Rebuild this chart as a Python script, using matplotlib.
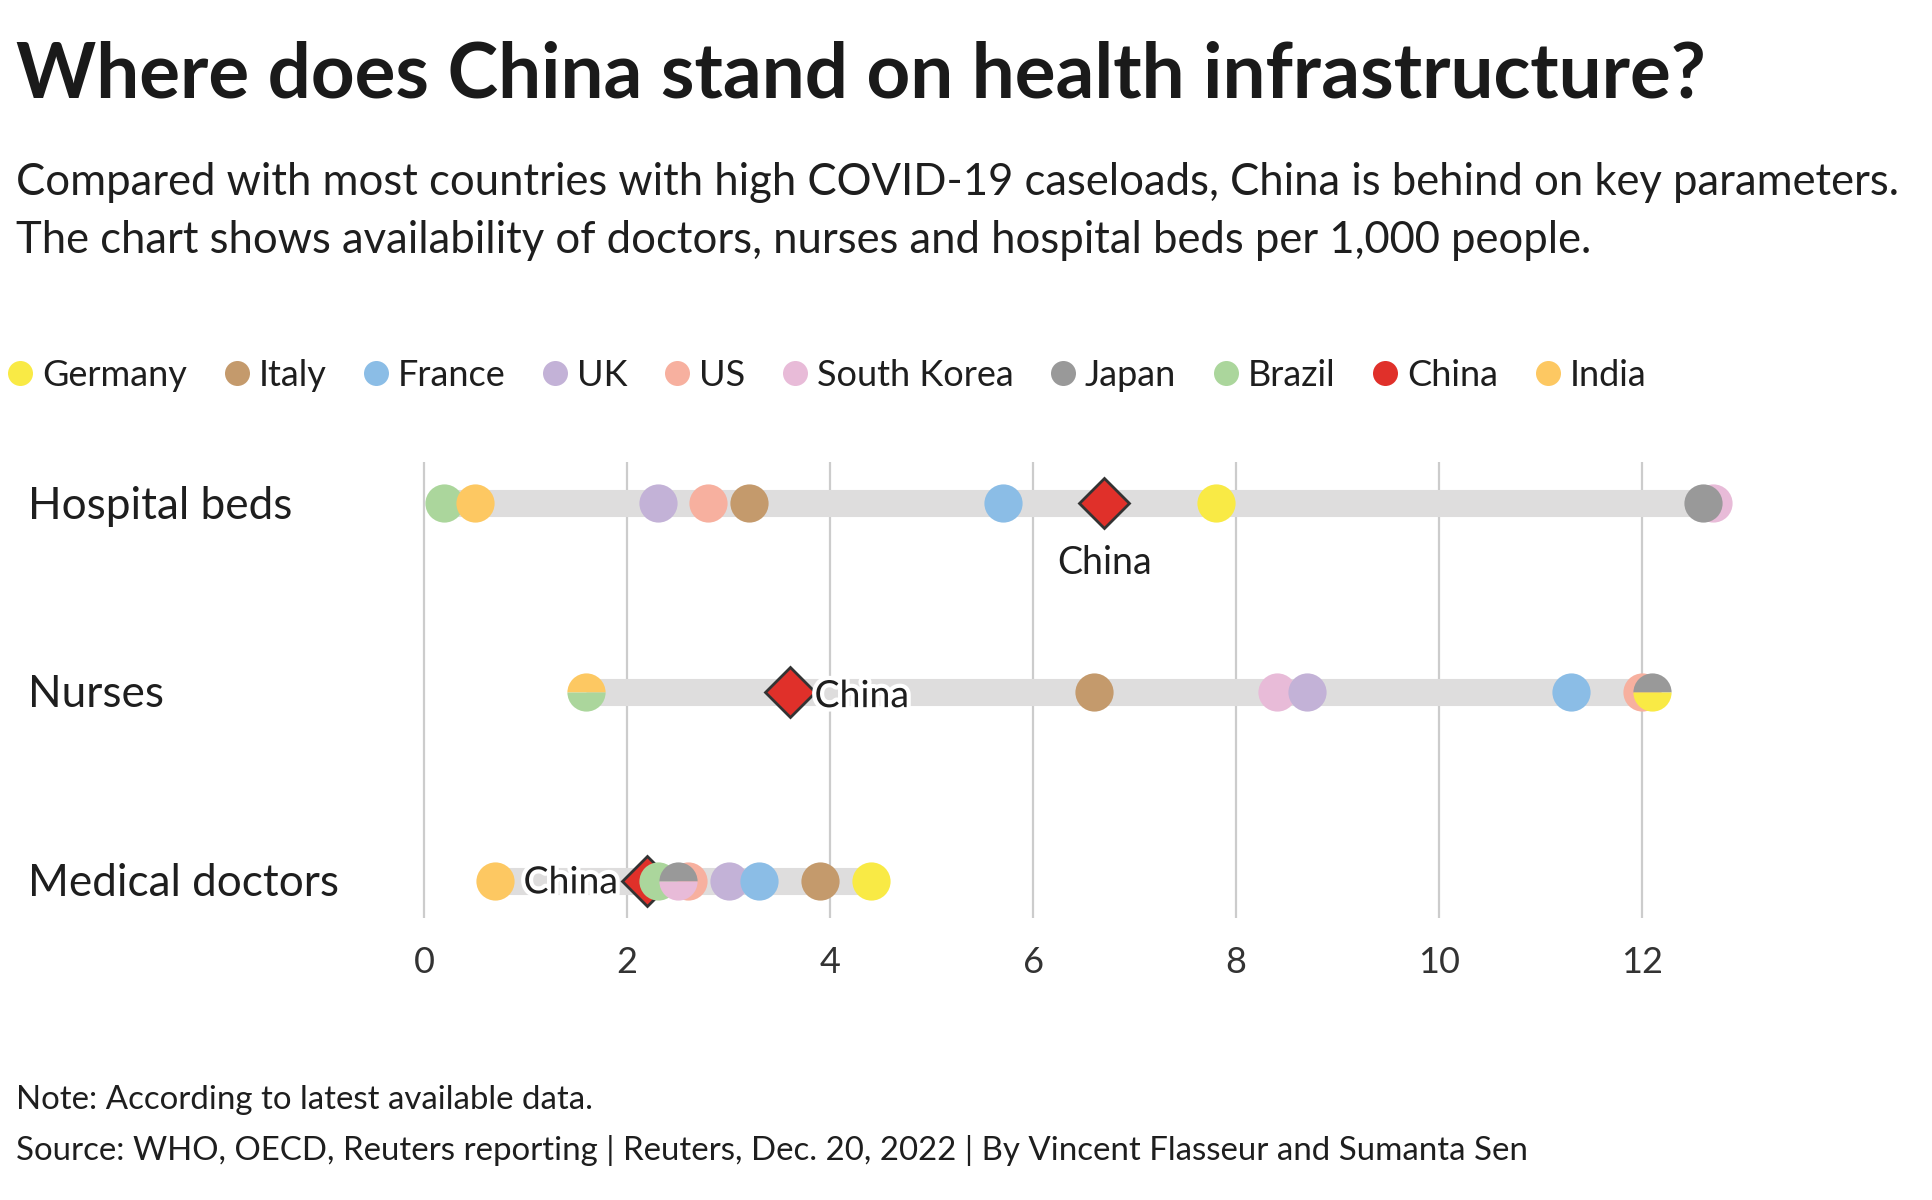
import matplotlib
matplotlib.use("Agg")
import matplotlib.pyplot as plt
import matplotlib.patheffects as pe
import matplotlib.transforms as mtransforms
from matplotlib.lines import Line2D

plt.rcParams['font.family'] = ['Lato', 'DejaVu Sans']

# data, per 1,000 people
countries = ['Germany', 'Italy', 'France', 'UK', 'US', 'South Korea',
             'Japan', 'Brazil', 'China', 'India']
colors = ['#f9ea45', '#c49a6c', '#8bbde6', '#c3b2d7', '#f7b09f', '#e8bbd8',
          '#999999', '#abd69c', '#e0302a', '#fdc862']
rows = ['Hospital beds', 'Nurses', 'Medical doctors']
beds = [7.8, 3.2, 5.7, 2.3, 2.8, 12.7, 12.6, 0.2, 6.7, 0.5]
nurses = [12.1, 6.6, 11.3, 8.7, 12.0, 8.4, 12.1, 1.6, 3.6, 1.6]
doctors = [4.4, 3.9, 3.3, 3.0, 2.6, 2.5, 2.5, 2.3, 2.2, 0.7]
values = [beds, nurses, doctors]
xticks = [0, 2, 4, 6, 8, 10, 12]

# which side the "China" label sits on, per row
china_label = ['below', 'right', 'left']
draw_order = ['China', 'US', 'South Korea', 'Brazil', 'UK', 'France',
              'Italy', 'Germany', 'India', 'Japan']
ink = '#1e1e1e'

fig = plt.figure(figsize=(19.32, 12), dpi=100)
ax = fig.add_axes([0.209, 0.235, 0.6935, 0.38])
ax.set_xlim(-0.2, 13)
ax.set_ylim(-0.196, 2.217)

for t in xticks:
    ax.axvline(t, color='#cccccc', lw=1.6, zorder=0)

dot = 27.5
for i, (row, vals) in enumerate(zip(rows, values)):
    y = len(rows) - 1 - i
    ax.hlines(y, min(vals), max(vals), color='#dedddd', lw=19.5, zorder=1)

    # group equal values so ties become split circles
    groups = {}
    for c, v in zip(countries, vals):
        groups.setdefault(v, []).append(c)

    for v, names in groups.items():
        if 'China' in names:
            ax.plot(v, y, marker='D', ms=25, color=colors[countries.index('China')],
                    mec='#333333', mew=2, zorder=2)
            names = [n for n in names if n != 'China']
        if len(names) == 1:
            n = names[0]
            ax.plot(v, y, 'o', ms=dot, color=colors[countries.index(n)],
                    mew=0, zorder=3 + draw_order.index(n))
        elif len(names) == 2:
            names.sort(key=countries.index)
            bottom, top = names
            ax.plot(v, y, 'o', ms=dot, fillstyle='top', mew=0,
                    markerfacecolor=colors[countries.index(top)],
                    markerfacecoloralt=colors[countries.index(bottom)],
                    zorder=3 + max(draw_order.index(n) for n in names))

    cv = vals[countries.index('China')]
    side = china_label[i]
    halo = [pe.withStroke(linewidth=6, foreground='white')]
    if side == 'below':
        ax.annotate('China', (cv, y), xytext=(0, -43), textcoords='offset points',
                    ha='center', va='center', fontsize=27, color=ink, zorder=20)
    elif side == 'right':
        ax.annotate('China', (cv, y), xytext=(18, -3), textcoords='offset points',
                    ha='left', va='center', fontsize=27, color=ink,
                    zorder=20, path_effects=halo)
    else:
        ax.annotate('China', (cv, y), xytext=(-21, -1), textcoords='offset points',
                    ha='right', va='center', fontsize=27, color=ink,
                    zorder=20, path_effects=halo)

# row labels on the left
trans = mtransforms.blended_transform_factory(fig.transFigure, ax.transData)
trans = trans + mtransforms.ScaledTranslation(0, -0.03, fig.dpi_scale_trans)
for i, row in enumerate(rows):
    ax.text(0.0145, len(rows) - 1 - i, row, transform=trans, ha='left', va='center',
            fontsize=31.8, color=ink)

ax.set_xticks(xticks)
ax.set_xticklabels([str(t) for t in xticks])
ax.tick_params(axis='x', length=0, pad=20, labelsize=26, labelcolor='#333333')
ax.set_yticks([])
for s in ax.spines.values():
    s.set_visible(False)

handles = [Line2D([], [], ls='', marker='o', ms=18, mew=0, color=c) for c in colors]
leg = fig.legend(handles, countries, loc='center left', bbox_to_anchor=(0.004, 0.687),
                 ncol=len(countries), frameon=False, fontsize=26,
                 handlelength=0.7, handletextpad=0.25, columnspacing=1.03,
                 borderpad=0, borderaxespad=0)
for t in leg.get_texts():
    t.set_color(ink)

fig.text(0.0083, 0.919, 'Where does China stand on health infrastructure?',
         fontsize=55, fontweight='bold', color='#1a1a1a', va='baseline')
fig.text(0.0083, 0.8375, 'Compared with most countries with high COVID-19 caseloads, '
         'China is behind on key parameters.', fontsize=31.4, color=ink, va='baseline')
fig.text(0.0083, 0.789, 'The chart shows availability of doctors, nurses and hospital '
         'beds per 1,000 people.', fontsize=31.4, color=ink, va='baseline')
fig.text(0.0083, 0.076, 'Note: According to latest available data.',
         fontsize=23.8, color=ink, va='baseline')
fig.text(0.0083, 0.033, 'Source: WHO, OECD, Reuters reporting | Reuters, Dec. 20, 2022 | '
         'By Vincent Flasseur and Sumanta Sen', fontsize=23.8, color=ink,
         va='baseline')

fig.savefig('out.png', dpi=100)
